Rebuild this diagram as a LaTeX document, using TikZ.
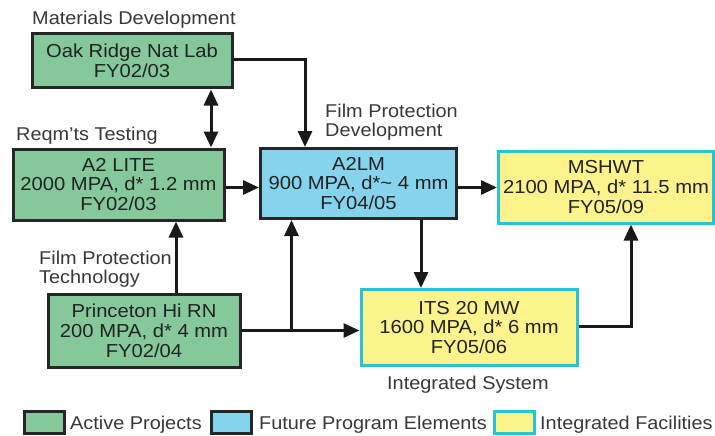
\documentclass[tikz,border=0pt]{standalone}
\usepackage{fontspec}
\setmainfont{Liberation Sans}[FakeStretch=1.075]
\usetikzlibrary{arrows.meta}
\definecolor{activeG}{HTML}{85C99B}
\definecolor{futureB}{HTML}{85D3EC}
\definecolor{facilY}{HTML}{FCF38D}
\definecolor{facilC}{HTML}{2BC3D3}
\definecolor{inkT}{HTML}{222222}
\tikzset{
  boxbase/.style={draw, line width=3pt, inner sep=0pt, align=center, text=inkT,
    font=\fontsize{18.8}{19.8}\selectfont},
  activebox/.style={boxbase, fill=activeG, draw=black!85},
  futurebox/.style={boxbase, fill=futureB, draw=black!85},
  facilbox/.style={boxbase, fill=facilY, draw=facilC},
  lbl/.style={inner sep=0pt, text=inkT!90, font=\fontsize{18.5}{19.5}\selectfont, align=left},
  link/.style={line width=3pt, draw=black!90, -{Triangle[length=16pt,width=14pt]}},
  biLink/.style={line width=3pt, draw=black!90, {Triangle[length=16pt,width=14pt]}-{Triangle[length=16pt,width=14pt]}},
  keybox/.style={line width=3pt, inner sep=0pt, minimum width=40pt, minimum height=22pt}
}
\begin{document}
\begin{tikzpicture}[x=1pt,y=-1pt]
\useasboundingbox (0,0) rectangle (715,436);

% project boxes
\node[activebox, minimum width=200pt, minimum height=54pt] (oak) at (132,61)
  {Oak Ridge Nat Lab\\FY02/03};
\node[activebox, minimum width=211pt, minimum height=71pt] (lite) at (118.5,184.5)
  {A2 LITE\\2000 MPA, d* 1.2 mm\\FY02/03};
\node[futurebox, minimum width=196pt, minimum height=70pt] (a2lm) at (358.5,183.5)
  {A2LM\\900 MPA, d*\~{} 4 mm\\FY04/05};
\node[facilbox, minimum width=215pt, minimum height=72pt] (mshwt) at (606,187)
  {MSHWT\\2100 MPA, d* 11.5 mm\\FY05/09};
\node[activebox, minimum width=192pt, minimum height=73pt] (prin) at (144,330.5)
  {Princeton Hi RN\\200 MPA, d* 4 mm\\FY02/04};
\node[facilbox, minimum width=216pt, minimum height=76pt] (its) at (469,327.5)
  {ITS 20 MW\\1600 MPA, d* 6 mm\\FY05/06};

% area labels
\node[lbl, anchor=base west] (lmat) at (32,25) {Materials Development};
\node[lbl, anchor=base west] (lreq) at (16,140) {Reqm’ts Testing};
\node[lbl, anchor=west] (lfpd) at (325,122) {Film Protection\\Development};
\node[lbl, anchor=west] (lfpt) at (39,269) {Film Protection\\Technology};
\node[lbl, anchor=base west] (lint) at (387,389) {Integrated System};

% connectors
\draw[link] ([yshift=1pt]oak.east) -| ([xshift=-53.5pt]a2lm.north);
\draw[biLink] ([xshift=79pt]oak.south) -- ([xshift=79pt]oak.south |- lite.north);
\draw[link] ([yshift=-3pt]lite.east) -- ([yshift=-3pt]lite.east -| a2lm.west);
\draw[link] ([yshift=-4pt]a2lm.east) -- ([yshift=-4pt]a2lm.east -| mshwt.west);
\draw[link] ([xshift=62.5pt]a2lm.south) -- ([xshift=62.5pt]a2lm.south |- its.north);
\draw[link] ([xshift=32pt]prin.north) -- ([xshift=32pt]prin.north |- lite.south);
\coordinate (split) at ([xshift=50pt]prin.east);
\draw[link] (prin.east) -- (prin.east -| its.west);
\draw[link] (split) -- (split |- a2lm.south);
\draw[link] ([yshift=1.5pt]its.east) -| ([xshift=25pt]mshwt.south);

% legend
\node[keybox, draw=black!85, fill=activeG] (k1) at (44,422) {};
\node[lbl, anchor=base west] (t1) at (70,429) {Active Projects};
\node[keybox, draw=black!85, fill=futureB] (k2) at (231,422) {};
\node[lbl, anchor=base west] (t2) at (259,429) {Future Program Elements};
\node[keybox, draw=facilC, fill=facilY] (k3) at (514,422) {};
\node[lbl, anchor=base west] (t3) at (540,429) {Integrated Facilities};
\end{tikzpicture}
\end{document}
